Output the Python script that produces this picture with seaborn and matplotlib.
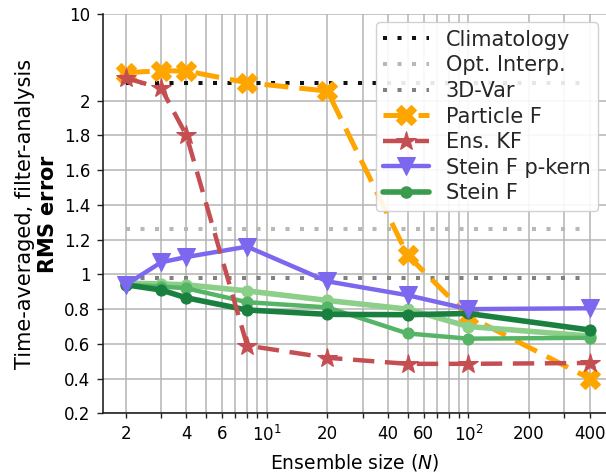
import numpy as np
import matplotlib
matplotlib.use("Agg")
import matplotlib.pyplot as plt
import matplotlib.ticker as mticker
import seaborn as sns

sns.set_theme(style="ticks")
plt.rcParams["font.family"] = ["DejaVu Sans"]

# ── dados ────────────────────────────────────────────────
N = [2, 3, 4, 8, 20, 50, 100, 400]
climatology = 3.66
opt_interp = 1.26
var3d = 0.977
particle = [4.58, 4.77, 4.74, 3.66, 2.89, 1.11, 0.76, 0.40]
enkf = [4.10, 3.14, 1.80, 0.59, 0.52, 0.485, 0.485, 0.49]
stein_pkern = [0.94, 1.07, 1.10, 1.16, 0.96, 0.88, 0.80, 0.805]
stein_light = [0.95, 0.945, 0.94, 0.905, 0.85, 0.80, 0.70, 0.645]
stein_mid = [0.94, 0.93, 0.92, 0.84, 0.81, 0.66, 0.63, 0.635]
stein_dark = [0.94, 0.91, 0.865, 0.795, 0.77, 0.768, 0.775, 0.68]
yticks = [0.2, 0.4, 0.6, 0.8, 1.0, 1.2, 1.4, 1.6, 1.8, 2.0, 10.0]

# escala linear ate 2, comprimida acima
K = 0.0624
def fwd(y):
    y = np.asarray(y, float)
    return np.where(y <= 2, y, 2 + (y - 2) * K)
def inv(z):
    z = np.asarray(z, float)
    return np.where(z <= 2, z, 2 + (z - 2) / K)

fig = plt.figure(figsize=(6.06, 4.75), dpi=100)
ax = fig.add_axes([0.1695, 0.1298, 0.8305, 0.8407])
ax.set_xscale("log")
ax.set_yscale("function", functions=(fwd, inv))

dots = (0, (1, 2.6))
for val, col, lab in [(climatology, "#111111", "Climatology"),
                      (opt_interp, "#b8b8b8", "Opt. Interp."),
                      (var3d, "#808080", "3D-Var")]:
    sns.lineplot(x=N, y=[val] * len(N), ax=ax, color=col, lw=2.9,
                 linestyle=dots, dash_capstyle="butt", label=lab, zorder=2)

sns.lineplot(x=N, y=particle, ax=ax, color="orange", lw=3.6, linestyle=(0, (4.8, 2.2)),
             marker="X", ms=15, mec="orange", label="Particle F", zorder=2.2)
sns.lineplot(x=N, y=enkf, ax=ax, color="#c44e52", lw=3.2, linestyle=(0, (4.8, 2.4)),
             marker="*", ms=15, mec="#c44e52", label="Ens. KF", zorder=5)
sns.lineplot(x=N, y=stein_pkern, ax=ax, color="#7b68ee", lw=3.2,
             marker="v", ms=13, mec="#7b68ee", label="Stein F p-kern", zorder=4)
sns.lineplot(x=N, y=stein_light, ax=ax, color="#8ccf88", lw=4, marker="o", ms=8,
             mec="#8ccf88", zorder=3)
sns.lineplot(x=N, y=stein_mid, ax=ax, color="#55b466", lw=3.2, marker="o", ms=8,
             mec="#55b466", zorder=3.1)
sns.lineplot(x=N, y=stein_dark, ax=ax, color="#1a8040", lw=4, marker="o", ms=8,
             mec="#1a8040", zorder=3.2)
# entrada da legenda para Stein F
ax.plot([], [], color="#3a9a4d", lw=4, marker="o", ms=8, label="Stein F")

ax.set_xlim(1.537, 482)
ax.set_ylim(0.2, 10)
ax.yaxis.set_major_locator(mticker.FixedLocator(yticks))
ax.yaxis.set_major_formatter(mticker.FuncFormatter(lambda v, _: f"{v:g}"))
ax.yaxis.set_minor_locator(mticker.NullLocator())

def minor_fmt(v, _):
    m = int(round(v / 10 ** np.floor(np.log10(v))))
    return f"{v:g}" if m in (2, 4, 6) else ""
ax.xaxis.set_minor_locator(mticker.LogLocator(base=10, subs=np.arange(2, 10)))
ax.xaxis.set_minor_formatter(mticker.FuncFormatter(minor_fmt))

ax.grid(True, which="both", axis="x", color="#b4b4b4", lw=1.1)
ax.grid(True, which="major", axis="y", color="#b4b4b4", lw=1.1)
ax.set_axisbelow(True)
ax.tick_params(axis="both", which="both", labelsize=12, width=1,
               color="#222222", labelcolor="black")
ax.tick_params(axis="x", which="both", length=3.4, pad=5)
ax.tick_params(axis="y", which="both", length=4.4, pad=4.4)
for s in ["top", "right"]:
    ax.spines[s].set_visible(False)
for s in ["left", "bottom"]:
    ax.spines[s].set_color("#222222")
    ax.spines[s].set_linewidth(1.2)

ax.set_xlabel("Ensemble size ($N$)", fontsize=13.5, color="black", labelpad=5)
ax.set_ylabel("Time-averaged, filter-analysis\n$\\bf{RMS\\ error}$", fontsize=15,
              color="black", labelpad=4)

ax.legend(loc="upper right", fontsize=15, handlelength=2.2, borderaxespad=0.4,
          framealpha=0.9, edgecolor="#cccccc", labelspacing=0.27, handletextpad=0.8,
          borderpad=0.35)

fig.savefig("out.png", dpi=100)
